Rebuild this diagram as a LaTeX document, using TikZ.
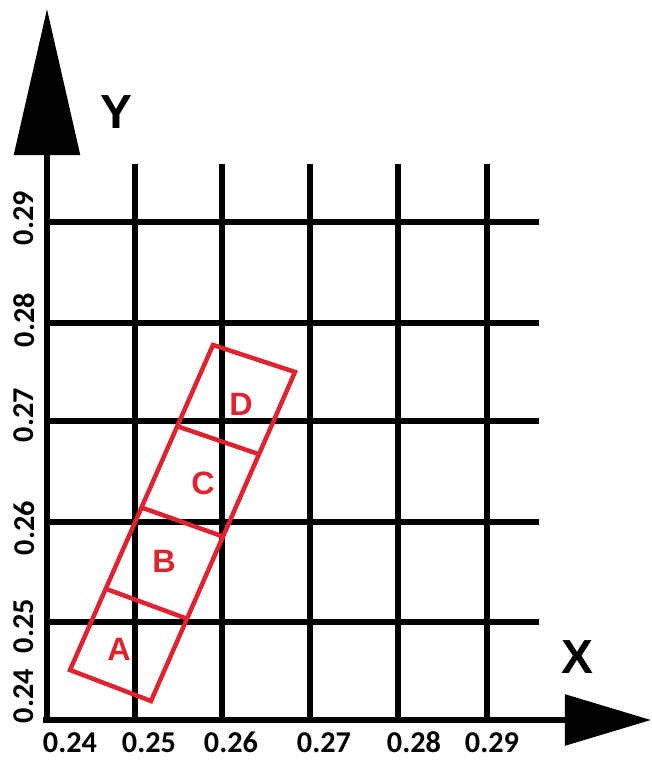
\documentclass[tikz,border=0pt]{standalone}
\usepackage{fontspec}
\setmainfont{Liberation Sans}
\newfontfamily\tickfont{Carlito}
\usetikzlibrary{arrows.meta,calc}
\definecolor{cRed}{RGB}{222,36,48}
\tikzset{
  gridline/.style={line width=3.9pt,color=black},
  axisline/.style={line width=3.9pt,color=black},
  redbox/.style={draw=cRed,line width=3.2pt,line join=miter},
  ticklbl/.style={font=\tickfont\bfseries\fontsize{21.5}{22}\selectfont,inner sep=0pt},
  axislbl/.style={font=\bfseries\fontsize{34}{36}\selectfont,inner sep=0pt},
  cellname/.style={font=\bfseries\fontsize{23}{24}\selectfont,text=cRed,inner sep=0pt}
}

\begin{document}
\begin{tikzpicture}[x=0.025cm,y=-0.025cm]

  \useasboundingbox (0,0) rectangle (651,760);

  % grid
  \foreach \gx in {135,222,310,398,487}
    \draw[gridline] (\gx,164) -- (\gx,720);
  \foreach \gy in {222,323,421,522,622}
    \draw[gridline] (47,\gy) -- (539,\gy);

  % axes
  \coordinate (orig) at (47,720);
  \coordinate (ytip) at (47,9);
  \coordinate (xtip) at (651,720);
  \draw[axisline,-{Triangle[length=3.65cm,width=1.625cm]}] (47,722) -- (ytip);
  \draw[axisline,-{Triangle[length=2.15cm,width=1.25cm]}] (43,720) -- (xtip);

  \node[axislbl] (ylbl) at (116,112) {Y};
  \node[axislbl] (xlbl) at (577,657) {X};

  % tick labels
  \node[ticklbl] (xt24) at (70,742.5)  {0.24};
  \node[ticklbl] (xt25) at (149,742.5) {0.25};
  \node[ticklbl] (xt26) at (231,742.5) {0.26};
  \node[ticklbl] (xt27) at (324,742.5) {0.27};
  \node[ticklbl] (xt28) at (414,742.5) {0.28};
  \node[ticklbl] (xt29) at (492,742.5) {0.29};

  \node[ticklbl,rotate=90] (yt24) at (24,696) {0.24};
  \node[ticklbl,rotate=90] (yt25) at (24,626) {0.25};
  \node[ticklbl,rotate=90] (yt26) at (24,528) {0.26};
  \node[ticklbl,rotate=90] (yt27) at (24,415) {0.27};
  \node[ticklbl,rotate=90] (yt28) at (24,320) {0.28};
  \node[ticklbl,rotate=90] (yt29) at (24,218) {0.29};

  % tilted strip of cells
  \coordinate (bl) at (70,670);
  \coordinate (br) at (151,701);
  \coordinate (tr) at (295,372);
  \coordinate (tl) at (213,345);
  \draw[redbox] (bl) -- (br) -- (tr) -- (tl) -- cycle;
  \draw[redbox] ($(bl)!0.25!(tl)$) -- ($(br)!0.25!(tr)$);
  \draw[redbox] ($(bl)!0.5!(tl)$) -- ($(br)!0.5!(tr)$);
  \draw[redbox] ($(bl)!0.75!(tl)$) -- ($(br)!0.75!(tr)$);

  \node[cellname] (cellA) at (119,649) {A};
  \node[cellname] (cellB) at (164,561) {B};
  \node[cellname] (cellC) at (203,483) {C};
  \node[cellname] (cellD) at (241,404) {D};

\end{tikzpicture}
\end{document}
